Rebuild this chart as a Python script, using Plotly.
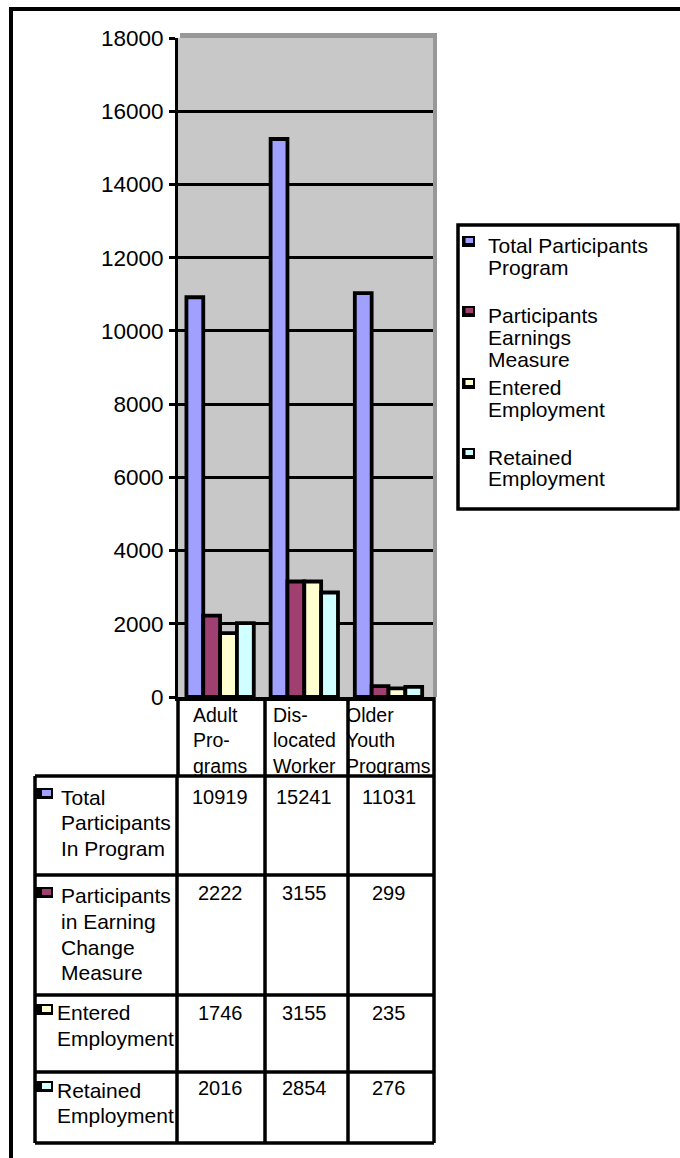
import plotly.graph_objects as go

# ---------------- data ----------------
categories = ["Adult Programs", "Dislocated Worker", "Older Youth Programs"]
category_labels = ["Adult<br>Pro-<br>grams", "Dis-<br>located<br>Worker", "Older<br>Youth<br>Programs"]
legend_labels = ["Total Participants<br>Program", "Participants<br>Earnings<br>Measure",
                 "Entered<br>Employment", "Retained<br>Employment"]
table_labels = ["Total<br>Participants<br>In Program", "Participants<br>in Earning<br>Change<br>Measure",
                "Entered<br>Employment", "Retained<br>Employment"]
total_participants = [10919, 15241, 11031]
earnings_measure = [2222, 3155, 299]
entered_employment = [1746, 3155, 235]
retained_employment = [2016, 2854, 276]
series_values = [total_participants, earnings_measure, entered_employment, retained_employment]
y_tick_values = [0, 2000, 4000, 6000, 8000, 10000, 12000, 14000, 16000, 18000]
colors = ["#A0A0FF", "#A04070", "#FFFFD0", "#D0FFFF"]

# ---------------- geometry ----------------
W, H = 680, 1158
PL, PR, PT, PB = 178, 433, 38, 697
FONT = "Liberation Sans, Arial, sans-serif"


def fx(px):
    return (px - PL) / (PR - PL)


def fy(py):
    return (PB - py) / (PB - PT)


fig = go.Figure()
for name, vals, c in zip(legend_labels, series_values, colors):
    fig.add_trace(go.Bar(
        x=categories, y=vals, name=name.replace("<br>", " "),
        marker=dict(color=c, line=dict(color="black", width=3.8)),
        showlegend=False,
    ))

shapes = []
annotations = []

# plot-area shadow and background
shapes.append(dict(type="rect", xref="paper", yref="paper", x0=fx(180), x1=fx(437), y0=0, y1=fy(33),
                   fillcolor="#989898", line=dict(width=0), layer="below"))
shapes.append(dict(type="rect", xref="paper", yref="paper", x0=0, x1=1, y0=0, y1=1,
                   fillcolor="#C8C8C8", line=dict(width=0), layer="below"))

# outer border
shapes.append(dict(type="rect", xref="paper", yref="paper", x0=fx(11), x1=fx(720), y0=fy(1200), y1=fy(9),
                   line=dict(color="black", width=4), fillcolor="rgba(0,0,0,0)"))

LW = 3.5


def hline(py, x0, x1):
    shapes.append(dict(type="line", xref="paper", yref="paper", x0=fx(x0), x1=fx(x1), y0=fy(py), y1=fy(py),
                       line=dict(color="black", width=LW)))


def vline(px, y0, y1):
    shapes.append(dict(type="line", xref="paper", yref="paper", x0=fx(px), x1=fx(px), y0=fy(y0), y1=fy(y1),
                       line=dict(color="black", width=LW)))


def text_lines(text, x, first_cy, spacing, size):
    for j, line in enumerate(text.split("<br>")):
        annotations.append(dict(x=fx(x), xref="paper", y=fy(first_cy + j * spacing), yref="paper", text=line,
                                showarrow=False, xanchor="left", yanchor="middle",
                                font=dict(family=FONT, size=size, color="black")))


# category header cells
for px in [178, 265, 348, 434]:
    vline(px, 697, 776)

# data table grid
row_lines = [776, 875, 995, 1072, 1143]
for py in row_lines:
    hline(py, 35, 434)
for px in [35, 177, 265, 348, 434]:
    vline(px, 776, 1143)

# category labels
for cat, lab in zip(categories, category_labels):
    annotations.append(dict(x=cat, xref="x", y=fy(702), yref="paper", text=lab, showarrow=False,
                            xanchor="center", yanchor="top", align="left",
                            font=dict(family=FONT, size=19.5, color="black")))

# table row labels + markers + values
row_first_center = [797, 896, 1013, 1090]
row_value_center = [797, 893, 1013, 1088]
row_text_x = [59, 59, 55, 55]
for i, (lab, vals, c) in enumerate(zip(table_labels, series_values, colors)):
    cy = row_first_center[i]
    text_lines(lab, row_text_x[i], cy, 25.6, 21)
    shapes.append(dict(type="rect", xref="paper", yref="paper", x0=fx(35), x1=fx(53), y0=fy(cy + 2), y1=fy(cy - 9),
                       fillcolor="black", line=dict(width=0)))
    shapes.append(dict(type="rect", xref="paper", yref="paper", x0=fx(42), x1=fx(51), y0=fy(cy - 1), y1=fy(cy - 7),
                       fillcolor=c, line=dict(width=0)))
    for cat, v in zip(categories, vals):
        annotations.append(dict(x=cat, xref="x", y=fy(row_value_center[i]), yref="paper", text=str(v),
                                showarrow=False, xanchor="center", yanchor="middle",
                                font=dict(family=FONT, size=20, color="black")))

# legend box
shapes.append(dict(type="rect", xref="paper", yref="paper", x0=fx(458), x1=fx(678), y0=fy(509), y1=fy(225),
                   line=dict(color="black", width=3.5), fillcolor="white"))
legend_first_center = [245, 315, 387, 457]
for i, (lab, c) in enumerate(zip(legend_labels, colors)):
    cy = legend_first_center[i]
    shapes.append(dict(type="rect", xref="paper", yref="paper", x0=fx(462), x1=fx(475), y0=fy(cy + 2), y1=fy(cy - 9),
                       fillcolor="black", line=dict(width=0)))
    shapes.append(dict(type="rect", xref="paper", yref="paper", x0=fx(465.5), x1=fx(473), y0=fy(cy - 2), y1=fy(cy - 7),
                       fillcolor=c, line=dict(width=0)))
    text_lines(lab, 486, cy, 22, 21)

fig.update_layout(
    width=W, height=H,
    margin=dict(l=PL, r=W - PR, t=PT, b=H - PB, pad=0),
    paper_bgcolor="white",
    plot_bgcolor="rgba(0,0,0,0)",
    barmode="group", bargap=0.2, bargroupgap=0,
    font=dict(family=FONT, size=20, color="black"),
    shapes=shapes,
    annotations=annotations,
    showlegend=False,
)
fig.update_xaxes(type="category", showticklabels=False, ticks="", showgrid=False,
                 showline=True, linecolor="black", linewidth=3.5, zeroline=False, fixedrange=True)
fig.update_yaxes(range=[0, 18000], tickvals=y_tick_values, ticktext=[str(v) for v in y_tick_values],
                 showgrid=True, gridcolor="black", gridwidth=3,
                 showline=True, linecolor="black", linewidth=3,
                 ticks="outside", ticklen=6, tickwidth=3, tickcolor="black",
                 ticklabelstandoff=1, zeroline=False,
                 tickfont=dict(family=FONT, size=22.5, color="black"), fixedrange=True)

fig.write_html("out.html")
